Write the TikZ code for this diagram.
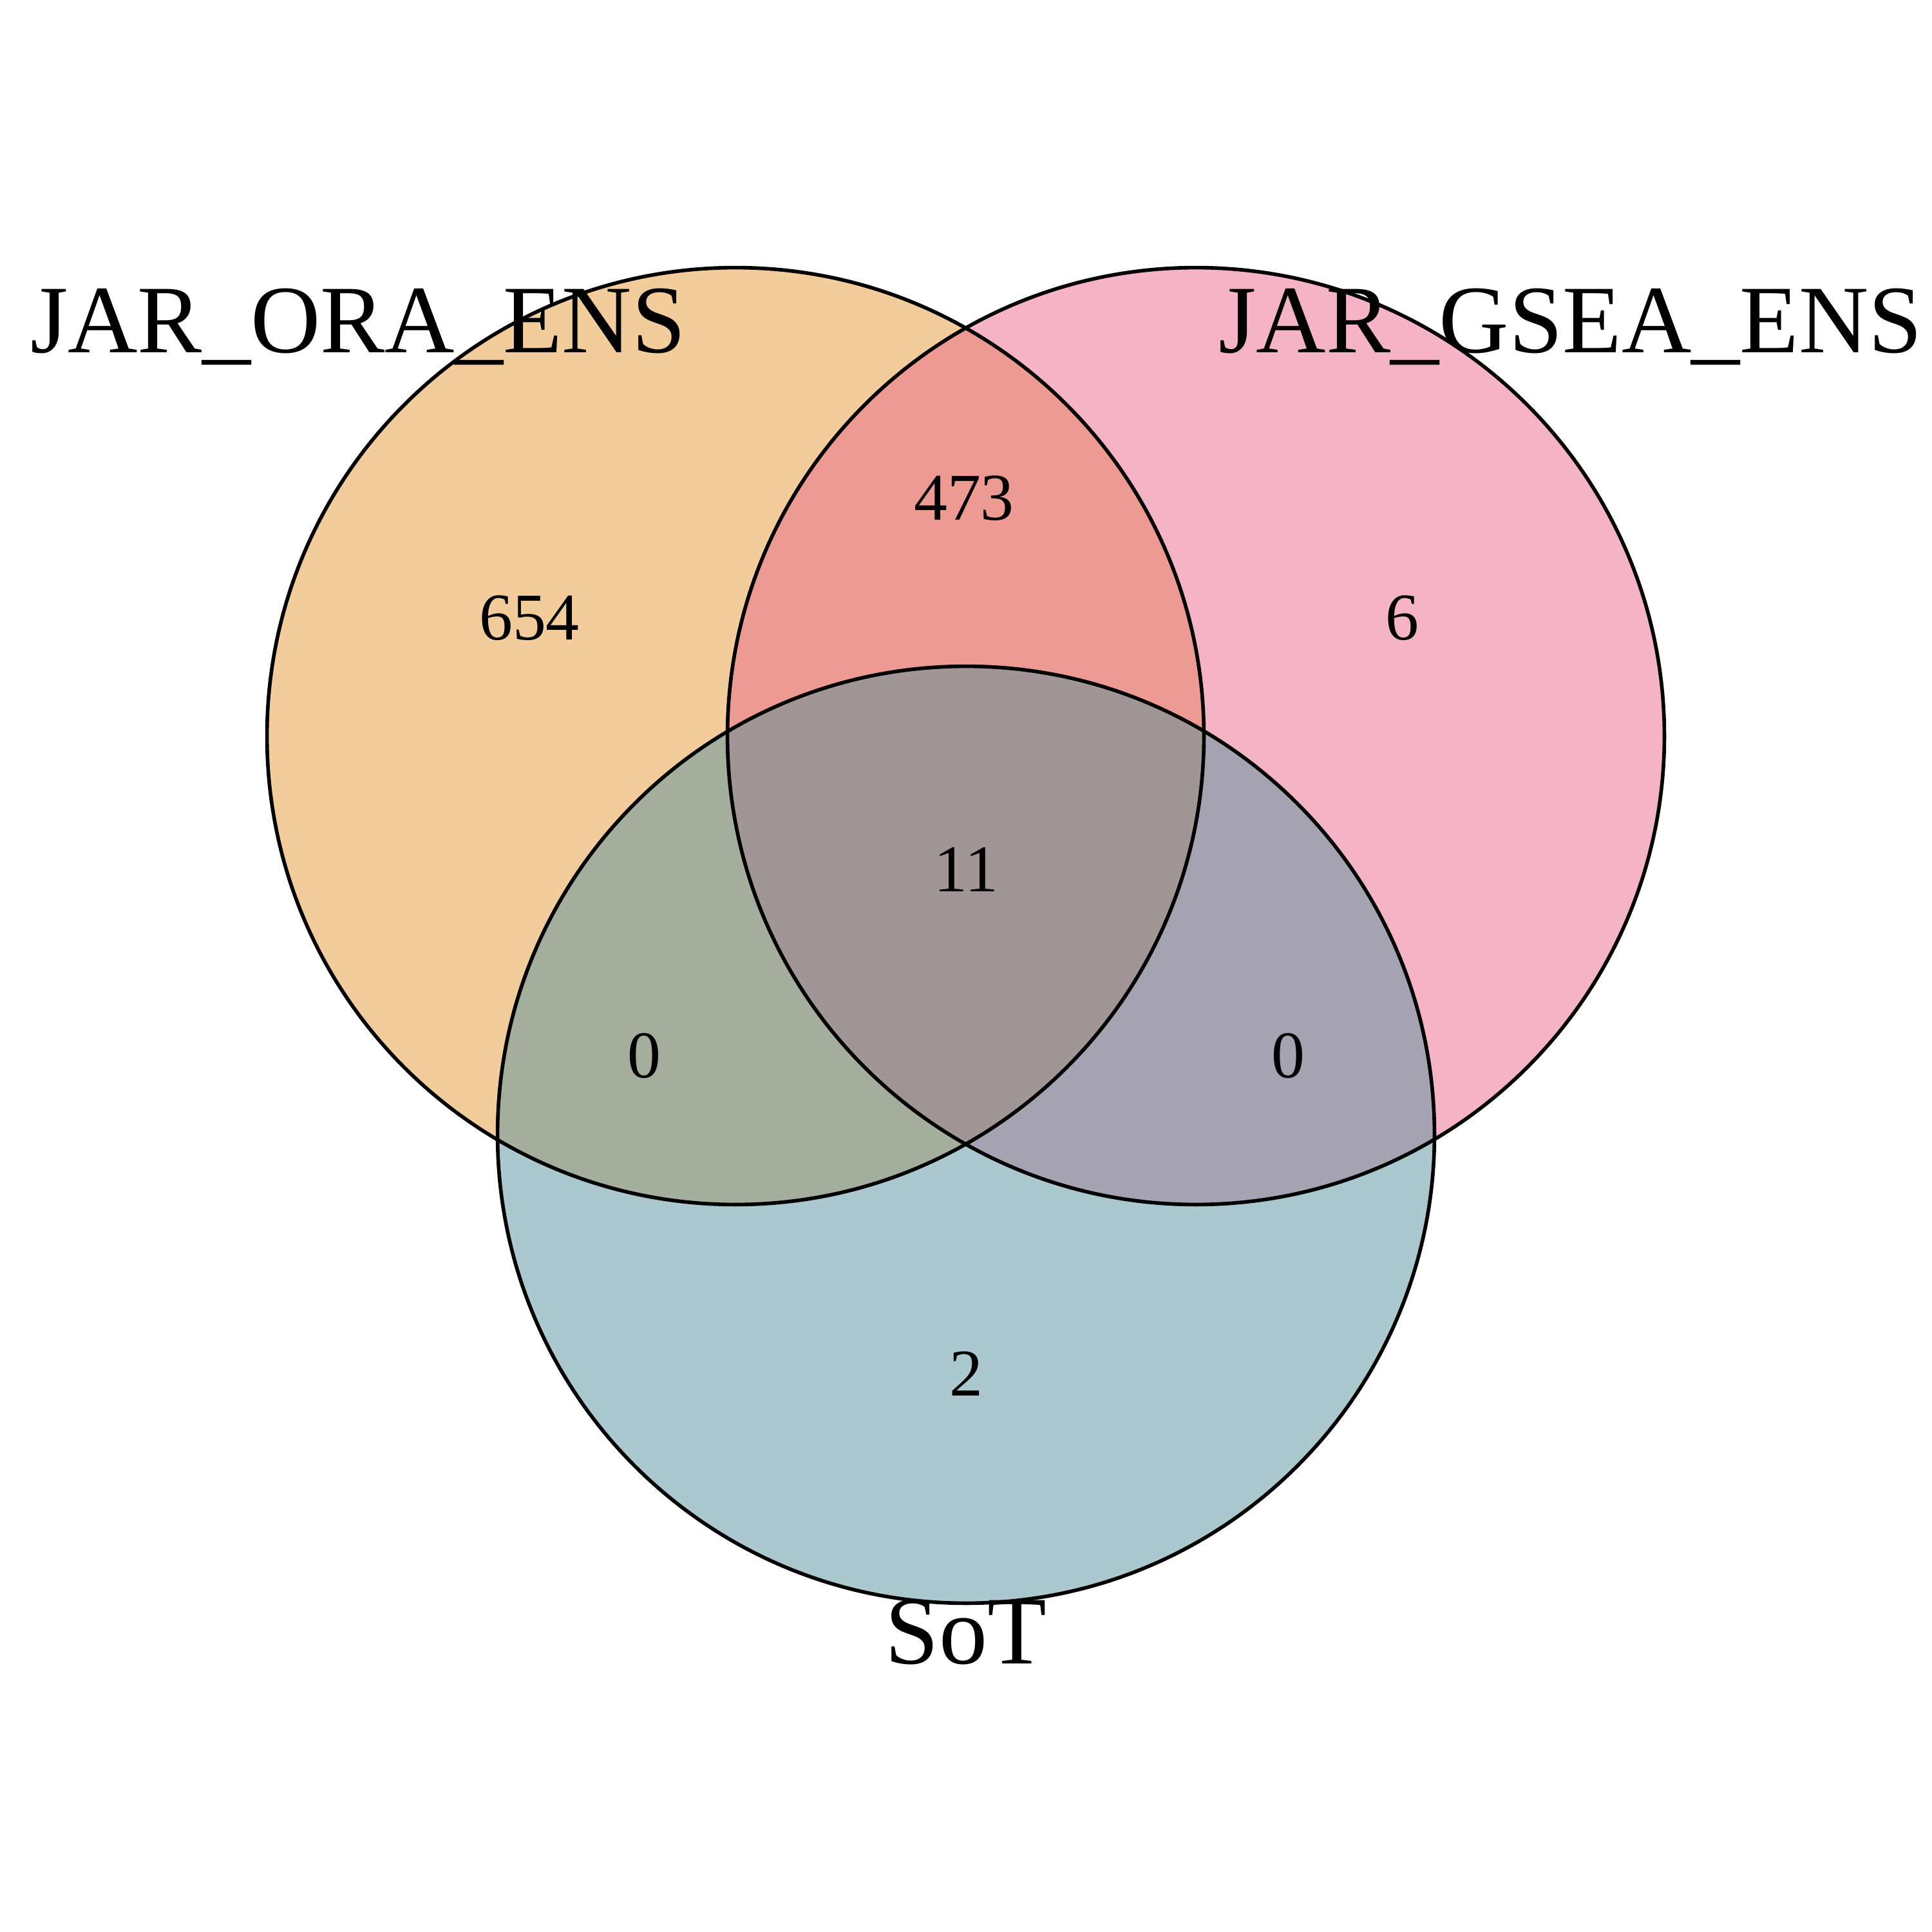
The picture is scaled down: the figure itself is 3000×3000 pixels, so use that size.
\documentclass[tikz,border=0pt]{standalone}
\usepackage{fontspec}
\setmainfont{Liberation Serif}
\definecolor{corange}{RGB}{229,155,55}
\definecolor{cpink}{RGB}{233,105,139}
\definecolor{cteal}{RGB}{87,145,157}
\tikzset{
  setfill/.style={fill opacity=0.5},
  setline/.style={draw=black, line width=1.6pt},
  setlabel/.style={anchor=base, inner sep=0pt, font=\fontsize{42.7pt}{50pt}\selectfont},
  count/.style={anchor=base, inner sep=0pt, font=\fontsize{29.5pt}{34pt}\selectfont}
}
\begin{document}
\begin{tikzpicture}[x=0.01cm,y=-0.01cm]
\useasboundingbox (0,0) rectangle (3000,3000);
\coordinate (cA) at (1142,1143);
\coordinate (cB) at (1857,1143);
\coordinate (cC) at (1500,1762);
\fill[corange, setfill] (cA) circle[radius=7.27cm];
\fill[cpink, setfill] (cB) circle[radius=7.27cm];
\fill[cteal, setfill] (cC) circle[radius=7.27cm];
\draw[setline] (cA) circle[radius=7.27cm];
\draw[setline] (cB) circle[radius=7.27cm];
\draw[setline] (cC) circle[radius=7.27cm];
\node[setlabel] (lA) at (556,547) {JAR\_ORA\_ENS};
\node[setlabel] (lB) at (2439,547) {JAR\_GSEA\_ENS};
\node[setlabel] (lC) at (1500,2583) {SoT};
\node[count] (n654) at (822,993) {654};
\node[count] (n473) at (1497,807) {473};
\node[count] (n6) at (2177,993) {6};
\node[count] (n11) at (1500,1384) {11};
\node[count] (n0a) at (1000,1673) {0};
\node[count] (n0b) at (2000,1673) {0};
\node[count] (n2) at (1500,2167) {2};
\end{tikzpicture}
\end{document}
